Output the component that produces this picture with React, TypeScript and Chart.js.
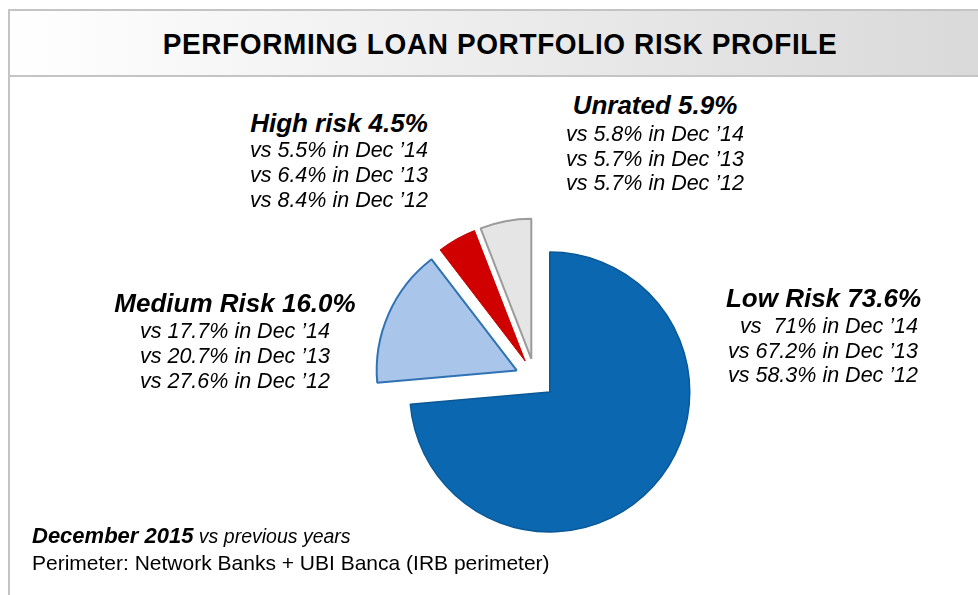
import React, { useEffect, useRef } from "react";
import { Chart, PieController, ArcElement, registerables } from "chart.js";

Chart.register(...registerables);

// ---------- DATA ----------
const categories = ["Low Risk", "Medium Risk", "High risk", "Unrated"];
const dec2015 = [73.6, 16.0, 4.5, 5.9];
const dec2014 = [71, 17.7, 5.5, 5.8];
const dec2013 = [67.2, 20.7, 6.4, 5.7];
const dec2012 = [58.3, 27.6, 8.4, 5.7];
const compareLabels = ["Dec \u201914", "Dec \u201913", "Dec \u201912"];
const titleText = "PERFORMING LOAN PORTFOLIO RISK PROFILE";
const footMain = "December 2015";
const footSub = "vs previous years";
const perimeterText = "Perimeter: Network Banks + UBI Banca (IRB perimeter)";

// ---------- custom exploded arc (true radial explode) ----------
class ExplodedArc extends (ArcElement as any) {
  static id = "explodedArc";
  static defaults = { ...(ArcElement as any).defaults, explode: 0 };
  draw(ctx: CanvasRenderingContext2D) {
    const self: any = this;
    const e = (self.options && self.options.explode) || 0;
    const mid = (self.startAngle + self.endAngle) / 2;
    ctx.save();
    ctx.translate(Math.cos(mid) * e, Math.sin(mid) * e);
    super.draw(ctx);
    ctx.restore();
  }
}
class ExplodedPieController extends (PieController as any) {
  static id = "explodedPie";
  static defaults = { dataElementType: "explodedArc" };
}
Chart.register(ExplodedArc as any, ExplodedPieController as any);

// ---------- layout ----------
const FONT = '"Liberation Sans", Arial, Helvetica, sans-serif';

type Align = "left" | "center" | "right";
function TextLine(props: {
  x: number; baseline: number; size: number; align: Align;
  bold?: boolean; italic?: boolean; children: any;
}) {
  const { x, baseline, size, align, bold, italic, children } = props;
  const top = baseline - 0.8465 * size;
  const style: any = {
    position: "absolute",
    top,
    fontFamily: FONT,
    fontSize: size,
    lineHeight: size + "px",
    whiteSpace: "pre",
    fontWeight: bold ? 700 : 400,
    fontStyle: italic ? "italic" : "normal",
    color: "#000",
  };
  if (align === "center") { style.left = x - 300; style.width = 600; style.textAlign = "center"; }
  else if (align === "right") { style.left = x - 600; style.width = 600; style.textAlign = "right"; }
  else { style.left = x; }
  return <div style={style}>{children}</div>;
}

const labelLayout = [
  { x: 921, subX: 918, align: "right" as Align, base: 307, subs: [334, 359, 383] },
  { x: 235, subX: 235, align: "center" as Align, base: 312, subs: [339, 364, 389] },
  { x: 339, subX: 339, align: "center" as Align, base: 132, subs: [158, 183, 208] },
  { x: 655, subX: 655, align: "center" as Align, base: 114, subs: [142, 167, 191] },
];

function fmtPrev(v: number) {
  const s = String(v);
  return (s.length < 3 ? "vs  " : "vs ") + s + "%";
}

export default function App() {
  const canvasRef = useRef<HTMLCanvasElement | null>(null);

  useEffect(() => {
    if (!canvasRef.current) return;
    const chart = new Chart(canvasRef.current, {
      type: "explodedPie" as any,
      data: {
        labels: categories,
        datasets: [
          {
            data: dec2015,
            backgroundColor: ["#0b67b0", "#a9c5e9", "#d10000", "#e5e5e5"],
            borderColor: ["#0a5896", "#2f73b5", "#c40000", "#9b9b9b"],
            borderWidth: [1.5, 2, 1, 2],
            explode: [20, 20, 20, 20],
            radius: 140,
          } as any,
        ],
      },
      options: {
        animation: false,
        responsive: true,
        maintainAspectRatio: false,
        layout: { padding: 0 },
        plugins: { legend: { display: false }, tooltip: { enabled: false } },
        events: [],
      } as any,
    });
    return () => chart.destroy();
  }, []);

  const prevSeries = [dec2014, dec2013, dec2012];

  return (
    <div style={{ position: "fixed", left: 0, top: 0, width: 978, height: 595, background: "#fff", overflow: "hidden" }}>
      {/* header */}
      <div
        style={{
          position: "absolute", left: 8, top: 9, width: 1000, height: 64,
          borderTop: "2px solid #c4c4c4", borderLeft: "2px solid #c4c4c4", borderBottom: "2px solid #c4c4c4",
          background: "linear-gradient(to right, #ffffff 0%, #d8d8d8 100%)",
        }}
      />
      <div style={{ position: "absolute", left: 8, top: 77, width: 2, height: 520, background: "#c4c4c4" }} />
      <div
        style={{
          position: "absolute", left: 0, width: 1000, top: 54 - 0.8465 * 28, textAlign: "center",
          fontFamily: FONT, fontWeight: 700, fontSize: 28, lineHeight: "28px", letterSpacing: 0.6, color: "#000",
        }}
      >
        <span style={{ display: "inline-block", transform: "scaleY(1.06)" }}>{titleText}</span>
      </div>

      {/* chart */}
      <div style={{ position: "absolute", left: 315, top: 158, width: 440, height: 441 }}>
        <canvas ref={canvasRef} />
      </div>

      {/* slice labels */}
      {categories.map((c, i) => {
        const L = labelLayout[i];
        return (
          <React.Fragment key={c}>
            <TextLine x={L.x} baseline={L.base} size={26} align={L.align} bold italic>
              {c + " " + dec2015[i].toFixed(1) + "%"}
            </TextLine>
            {prevSeries.map((ser, j) => (
              <TextLine key={j} x={L.subX} baseline={L.subs[j]} size={21.5} align={L.align} italic>
                {fmtPrev(ser[i]) + " in " + compareLabels[j]}
              </TextLine>
            ))}
          </React.Fragment>
        );
      })}

      {/* footer */}
      <div
        style={{
          position: "absolute", left: 32, top: 544 - 0.8465 * 22, fontFamily: FONT, fontSize: 22,
          lineHeight: "22px", whiteSpace: "pre", color: "#000",
        }}
      >
        <span style={{ fontWeight: 700, fontStyle: "italic" }}>{footMain}</span>
        <span style={{ fontStyle: "italic", fontSize: 19.5 }}>{" " + footSub}</span>
      </div>
      <TextLine x={32} baseline={570} size={21} align="left">{perimeterText}</TextLine>
    </div>
  );
}
